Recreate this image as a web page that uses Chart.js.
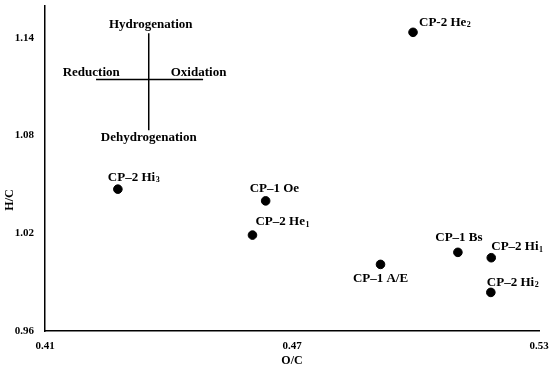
<!DOCTYPE html>
<html>
<head>
<meta charset="utf-8">
<script src="https://cdn.jsdelivr.net/npm/chart.js@4.4.1/dist/chart.umd.min.js"></script>
<style>
  html, body { margin: 0; padding: 0; background: #fff; }
  #wrap { width: 550px; height: 369px; }
</style>
</head>
<body>
<div id="wrap"><canvas id="chartVK"></canvas></div>
<script>
// Van Krevelen style plot: H/C vs O/C of the samples

// sample names, subscript digit kept apart
const sampleNames = ['CP-2 He', 'CP–2 Hi', 'CP–1 Oe', 'CP–2 He', 'CP–1 A/E', 'CP–1 Bs', 'CP–2 Hi', 'CP–2 Hi'];
const sampleSubs  = ['2', '3', '', '1', '', '', '1', '2'];
const ocRatio = [0.4994, 0.4277, 0.4636, 0.4604, 0.4915, 0.5103, 0.5184, 0.5183];
const hcRatio = [1.1434, 1.0471, 1.0399, 1.0189, 1.0009, 1.0083, 1.0050, 0.9837];

const xTicks = [0.41, 0.47, 0.53];
const yTicks = [0.96, 1.02, 1.08, 1.14];

// reaction direction cross (data units)
const crossArmX = [0.4224, 0.4484];
const crossArmY = [1.0833, 1.1428];
const crossMidX = 0.4352;
const crossMidY = 1.1144;
const crossWords = ['Hydrogenation', 'Dehydrogenation', 'Reduction', 'Oxidation'];

const FONT = "'Liberation Serif', 'Times New Roman', serif";

// label offsets from the dot: dx, dy, align
const labelPos = [
    [6, -10, 'left'],
    [-10, -12, 'left'],
    [-16, -12, 'left'],
    [3, -13, 'left'],
    [0, 14, 'center'],
    [1, -15, 'center'],
    [0, -11, 'left'],
    [-4, -10, 'left']
];

const points = ocRatio.map((x, i) => ({ x: x, y: hcRatio[i] }));

const textPlugin = {
    id: 'textPlugin',
    afterDatasetsDraw(chart) {
        const ctx = chart.ctx;
        const sx = chart.scales.x, sy = chart.scales.y;
        ctx.save();
        ctx.fillStyle = '#000';
        ctx.textBaseline = 'middle';

        // point labels
        const meta = chart.getDatasetMeta(2);
        meta.data.forEach((pt, i) => {
            const [dx, dy, align] = labelPos[i];
            ctx.font = 'bold 13px ' + FONT;
            const w = ctx.measureText(sampleNames[i]).width;
            let left = pt.x + dx;
            if (align === 'center') left = pt.x + dx - w / 2;
            ctx.textAlign = 'left';
            ctx.fillText(sampleNames[i], left, pt.y + dy);
            if (sampleSubs[i]) {
                ctx.font = 'bold 8px ' + FONT;
                ctx.fillText(sampleSubs[i], left + w + 0.5, pt.y + dy + 3);
            }
        });

        // cross words
        const vx = sx.getPixelForValue(crossMidX);
        const hy = sy.getPixelForValue(crossMidY);
        const top = sy.getPixelForValue(crossArmY[1]);
        const bot = sy.getPixelForValue(crossArmY[0]);
        ctx.font = 'bold 13px ' + FONT;
        ctx.textAlign = 'center';
        ctx.fillText(crossWords[0], vx + 2, top - 9);
        ctx.fillText(crossWords[1], vx, bot + 7);
        ctx.textAlign = 'right';
        ctx.fillText(crossWords[2], vx - 29, hy - 7);
        ctx.textAlign = 'left';
        ctx.fillText(crossWords[3], vx + 22, hy - 7);

        // axis titles
        ctx.font = 'bold 12px ' + FONT;
        ctx.textAlign = 'center';
        ctx.fillText('O/C', (chart.chartArea.left + chart.chartArea.right) / 2, 361);
        ctx.translate(10, 200);
        ctx.rotate(-Math.PI / 2);
        ctx.fillText('H/C', 0, 0);
        ctx.restore();
    }
};

new Chart(document.getElementById('chartVK'), {
    type: 'scatter',
    data: {
        datasets: [
            {
                data: [{ x: crossArmX[0], y: crossMidY }, { x: crossArmX[1], y: crossMidY }],
                showLine: true,
                borderColor: '#000',
                borderWidth: 1.5,
                pointRadius: 0
            },
            {
                data: [{ x: crossMidX, y: crossArmY[0] }, { x: crossMidX, y: crossArmY[1] }],
                showLine: true,
                borderColor: '#000',
                borderWidth: 1.5,
                pointRadius: 0
            },
            {
                data: points,
                backgroundColor: '#000',
                borderColor: '#000',
                pointRadius: 4.3,
                pointHoverRadius: 4.3
            }
        ]
    },
    options: {
        responsive: true,
        maintainAspectRatio: false,
        animation: false,
        devicePixelRatio: 1,
        layout: { padding: { left: 0, right: 11, top: 5, bottom: 0 } },
        plugins: {
            legend: { display: false },
            tooltip: { enabled: false }
        },
        scales: {
            x: {
                type: 'linear',
                min: 0.41,
                max: 0.53,
                afterBuildTicks: (s) => { s.ticks = xTicks.map(v => ({ value: v })); },
                afterFit: (s) => {
                    s.height = 38;
                    s.paddingLeft = 0;
                    s.paddingRight = 0;
                },
                grid: { display: false, drawTicks: false },
                border: { display: true, color: '#000', width: 1.5 },
                ticks: {
                    color: '#000',
                    padding: 9,
                    font: { family: FONT, size: 11, weight: 'bold' },
                    callback: (v) => v.toFixed(2)
                }
            },
            y: {
                type: 'linear',
                min: 0.96,
                max: 1.16,
                afterBuildTicks: (s) => { s.ticks = yTicks.map(v => ({ value: v })); },
                afterFit: (s) => {
                    s.width = 45;
                    s.paddingTop = 0;
                    s.paddingBottom = 0;
                },
                grid: { display: false, drawTicks: false },
                border: { display: true, color: '#000', width: 1.5 },
                ticks: {
                    color: '#000',
                    padding: 11,
                    font: { family: FONT, size: 11, weight: 'bold' },
                    callback: (v) => v.toFixed(2)
                }
            }
        }
    },
    plugins: [textPlugin]
});
</script>
</body>
</html>
